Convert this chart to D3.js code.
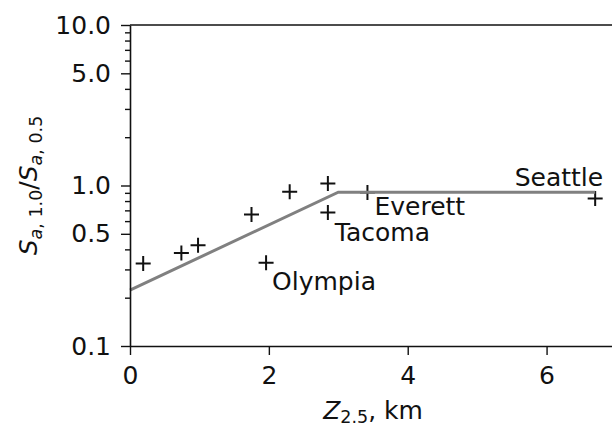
<!DOCTYPE html>
<html>
<head>
<meta charset="utf-8">
<script src="https://cdn.jsdelivr.net/npm/d3@7"></script>
<style>
  html, body { margin: 0; padding: 0; background: #fff; }
  svg { display: block; font-family: "DejaVu Sans", sans-serif; }
  .tick text { font-family: "DejaVu Sans", sans-serif; }
</style>
</head>
<body>
<svg id="chart" width="612" height="428"></svg>
<script>
// Basin depth Z2.5 (km) and ratio Sa(1.0 s)/Sa(0.5 s) at each site
const siteDepth = [0.19, 0.74, 0.98, 1.75, 2.30, 2.85, 2.85, 1.96, 3.42, 6.70];
const siteRatio = [0.327, 0.38, 0.425, 0.66, 0.915, 1.03, 0.68, 0.33, 0.905, 0.83];
const siteName  = ["", "", "", "", "", "", "Tacoma", "Olympia", "Everett", "Seattle"];

// Piecewise model curve: linear in log ratio up to 3 km, then flat
const modelDepth = [0, 3.0, 6.70];
const modelRatio = [0.223, 0.908, 0.908];

const xTicks = [0, 2, 4, 6];
const yMajorTicks = [0.1, 0.5, 1.0, 5.0, 10.0];
const yMinorTicks = [0.2, 0.3, 0.4, 0.6, 0.7, 0.8, 0.9, 2, 3, 4, 6, 7, 8, 9];

const svg = d3.select("#chart");
const plot = { left: 130, right: 616, top: 25, bottom: 346 };
const fontSize = 25;
const ink = "#111";

const x = d3.scaleLinear().domain([0, 7]).range([plot.left, plot.right]);
const y = d3.scaleLog().domain([0.1, 10]).range([plot.bottom, plot.top]);

// Site markers (drawn first so the model curve sits on top)
const sites = siteDepth.map((d, i) => ({ depth: d, ratio: siteRatio[i], name: siteName[i] }));
svg.append("g").selectAll("path")
  .data(sites)
  .join("path")
  .attr("transform", d => `translate(${x(d.depth)},${y(d.ratio)})`)
  .attr("d", "M-7.5,0H7.5M0,-7.5V7.5")
  .attr("stroke", ink)
  .attr("stroke-width", 2)
  .attr("fill", "none");

// Model curve
const line = d3.line().x(d => x(d[0])).y(d => y(d[1]));
svg.append("path")
  .datum(modelDepth.map((d, i) => [d, modelRatio[i]]))
  .attr("d", line)
  .attr("fill", "none")
  .attr("stroke", "#808080")
  .attr("stroke-width", 3);

// Site labels
const labelOffset = {
  Tacoma:  { dx: 7,  dy: 29, anchor: "start" },
  Olympia: { dx: 6,  dy: 27, anchor: "start" },
  Everett: { dx: 7,  dy: 23, anchor: "start" },
  Seattle: { dx: 8,  dy: -12, anchor: "end" }
};
svg.append("g").selectAll("text")
  .data(sites.filter(d => d.name))
  .join("text")
  .attr("x", d => x(d.depth) + labelOffset[d.name].dx)
  .attr("y", d => y(d.ratio) + labelOffset[d.name].dy)
  .attr("text-anchor", d => labelOffset[d.name].anchor)
  .attr("font-size", fontSize)
  .attr("fill", ink)
  .text(d => d.name);

// Axes
function styleAxis(g) {
  g.selectAll("path.domain").attr("stroke", ink).attr("stroke-width", 1.6);
  g.selectAll(".tick line").attr("stroke", ink).attr("stroke-width", 1.4);
  g.selectAll(".tick text").attr("fill", ink).attr("font-size", fontSize);
}

svg.append("g")
  .attr("transform", `translate(0,${plot.bottom})`)
  .call(d3.axisBottom(x).tickValues(xTicks).tickFormat(d3.format("d"))
        .tickSize(9).tickSizeOuter(0).tickPadding(11))
  .call(styleAxis);

svg.append("g")
  .attr("transform", `translate(${plot.left},0)`)
  .call(d3.axisLeft(y).tickValues(yMajorTicks).tickFormat(d3.format(".1f"))
        .tickSize(9).tickSizeOuter(0).tickPadding(10))
  .call(styleAxis);

svg.append("g")
  .attr("transform", `translate(${plot.left},0)`)
  .call(d3.axisLeft(y).tickValues(yMinorTicks).tickFormat("").tickSize(5).tickSizeOuter(0))
  .call(g => g.select("path.domain").remove())
  .call(styleAxis);

// Top spine
svg.append("line")
  .attr("x1", plot.left).attr("x2", plot.right)
  .attr("y1", plot.top).attr("y2", plot.top)
  .attr("stroke", ink).attr("stroke-width", 1.6);

// Axis titles
const xTitle = svg.append("text")
  .attr("x", (plot.left + plot.right) / 2)
  .attr("y", 419)
  .attr("text-anchor", "middle")
  .attr("font-size", fontSize)
  .attr("fill", ink);
xTitle.append("tspan").attr("font-style", "italic").text("Z");
xTitle.append("tspan").attr("font-size", fontSize * 0.7).attr("dy", 4).text("2.5");
xTitle.append("tspan").attr("dy", -4).text(", km");

const yTitle = svg.append("text")
  .attr("transform", `translate(37,${(plot.top + plot.bottom) / 2}) rotate(-90)`)
  .attr("text-anchor", "middle")
  .attr("font-size", fontSize)
  .attr("fill", ink);
yTitle.append("tspan").attr("font-style", "italic").text("S");
yTitle.append("tspan").attr("font-size", fontSize * 0.7).attr("dy", 5)
  .attr("font-style", "italic").text("a");
yTitle.append("tspan").attr("font-size", fontSize * 0.7).text(", 1.0");
yTitle.append("tspan").attr("dy", -5).text("/");
yTitle.append("tspan").attr("font-style", "italic").text("S");
yTitle.append("tspan").attr("font-size", fontSize * 0.7).attr("dy", 5)
  .attr("font-style", "italic").text("a");
yTitle.append("tspan").attr("font-size", fontSize * 0.7).text(", 0.5");
</script>
</body>
</html>
